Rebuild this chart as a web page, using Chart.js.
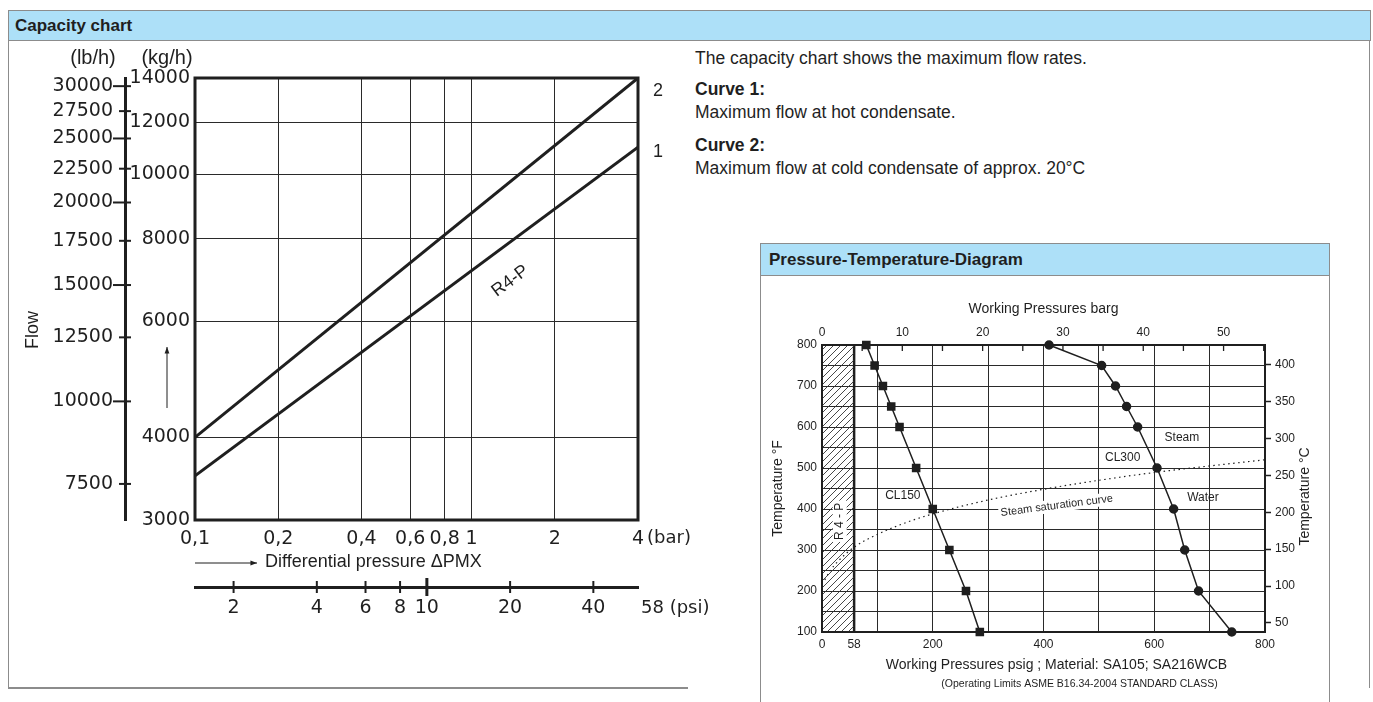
<!DOCTYPE html>
<html>
<head>
<meta charset="utf-8">
<title>Capacity chart</title>
<script src="https://cdn.jsdelivr.net/npm/chart.js@4.4.1/dist/chart.umd.min.js"></script>
<style>
  body { margin: 0; width: 1373px; height: 702px; overflow: hidden; background: #fff; color: #1f1f1f;
         font-family: "Liberation Sans", Arial, Helvetica, sans-serif; position: relative; }
  .head { position: absolute; background: #ade0f8; border: 1px solid #8c8c8c; box-sizing: border-box;
          font-weight: bold; font-size: 17px; padding-left: 6px; }
  .rule { position: absolute; background: #8c8c8c; }
  .txt { position: absolute; font-size: 17.5px; white-space: nowrap; }
  canvas { position: absolute; }
</style>
</head>
<body>
<div class="head" style="left:8px;top:10px;width:1363px;height:31px;line-height:29px">Capacity chart</div>
<div class="rule" style="left:8px;top:40px;width:1px;height:648px"></div>
<div class="rule" style="left:8px;top:687px;width:680px;height:2px"></div>
<div class="rule" style="left:1369px;top:40px;width:1px;height:648px"></div>

<div class="txt" style="left:695px;top:48px">The capacity chart shows the maximum flow rates.</div>
<div class="txt" style="left:695px;top:79px;font-weight:bold">Curve 1:</div>
<div class="txt" style="left:695px;top:102px">Maximum flow at hot condensate.</div>
<div class="txt" style="left:695px;top:135px;font-weight:bold">Curve 2:</div>
<div class="txt" style="left:695px;top:158px">Maximum flow at cold condensate of approx. 20°C</div>

<div class="head" style="left:760px;top:243px;width:570px;height:33px;line-height:31px;padding-left:8px">Pressure-Temperature-Diagram</div>
<div class="rule" style="left:760px;top:275px;width:1px;height:427px"></div>
<div class="rule" style="left:1329px;top:275px;width:1px;height:427px"></div>

<canvas id="capacity" width="720" height="600" style="left:0;top:42px;width:720px;height:600px"></canvas>
<canvas id="ptDiagram" width="566" height="423" style="left:762px;top:277px;width:566px;height:423px"></canvas>

<script>
// capacity chart (log-log)
const barTicks = [0.1, 0.2, 0.4, 0.6, 0.8, 1, 2, 4];
const psiTicks = [2, 4, 6, 8, 10, 20, 40];
const kgTicks = [3000, 4000, 6000, 8000, 10000, 12000, 14000];
const lbTicks = [7500, 10000, 12500, 15000, 17500, 20000, 22500, 25000, 27500, 30000];
const curvePressure = [0.1, 4];
const curve1Flow = [3500, 11000];
const curve2Flow = [4000, 14000];

// pressure-temperature diagram
const tempF = [100, 200, 300, 400, 500, 600, 650, 700, 750, 800];
const cl150Psig = [285, 260, 230, 200, 170, 140, 125, 110, 95, 80];
const cl300Psig = [740, 680, 655, 635, 605, 570, 550, 530, 505, 410];
const satPsig = [5, 15, 30, 58, 100, 150, 200, 300, 400, 500, 600, 700, 800];
const satTempF = [227, 250, 274, 307, 338, 366, 388, 422, 448, 470, 489, 505, 520];
const psigGrid = [0, 58, 100, 200, 300, 400, 500, 600, 700, 800];
const psigLabels = [0, 58, 200, 400, 600, 800];
const tempFGrid = [100, 150, 200, 250, 300, 350, 400, 450, 500, 550, 600, 650, 700, 750, 800];
const tempCTicks = [50, 100, 150, 200, 250, 300, 350, 400];
const bargTicks = [0, 5, 10, 15, 20, 25, 30, 35, 40, 45, 50, 55];
const r4pLimitPsig = 58;

const KG_TO_LB = 2.20462;
const BAR_TO_PSI = 14.5038;
const INK = '#1f1f1f';
const FONT = '"Liberation Sans", Arial, Helvetica, sans-serif';
const NUM_FONT = '"DejaVu Sans", Verdana, sans-serif';

Chart.defaults.font.family = FONT;
Chart.defaults.color = INK;

function strokeLine(ctx, x1, y1, x2, y2) {
    ctx.beginPath();
    ctx.moveTo(x1, y1);
    ctx.lineTo(x2, y2);
    ctx.stroke();
}

function arrow(ctx, x1, y1, x2, y2, head) {
    strokeLine(ctx, x1, y1, x2, y2);
    const ang = Math.atan2(y2 - y1, x2 - x1);
    ctx.beginPath();
    ctx.moveTo(x2, y2);
    ctx.lineTo(x2 - head * Math.cos(ang - 0.35), y2 - head * Math.sin(ang - 0.35));
    ctx.lineTo(x2 - head * Math.cos(ang + 0.35), y2 - head * Math.sin(ang + 0.35));
    ctx.closePath();
    ctx.fill();
}

const setTicks = list => scale => { scale.ticks = list.map(v => ({ value: v })); };
const noLine = { drawOnChartArea: false, drawTicks: false };
const numFont = { family: NUM_FONT, size: 19 };

// decorations of the capacity chart: frame, crossing ticks, units, arrows
const capacityDecor = {
    id: 'capacityDecor',
    afterDraw(chart) {
        const { ctx, chartArea: a } = chart;
        const { x, y, lb, psi } = chart.scales;
        ctx.save();
        ctx.strokeStyle = INK;
        ctx.fillStyle = INK;
        ctx.lineWidth = 3;
        ctx.strokeRect(a.left, a.top, a.right - a.left, a.bottom - a.top);

        ctx.lineWidth = 2;
        lb.ticks.forEach(t => {
            const py = lb.getPixelForValue(t.value);
            const long = t.value % 5000 === 0;
            strokeLine(ctx, lb.right - (long ? 12 : 6), py, lb.right + 6, py);
        });
        psi.ticks.forEach(t => {
            const px = psi.getPixelForValue(t.value);
            const big = t.value === 10;
            ctx.lineWidth = big ? 3 : 2;
            strokeLine(ctx, px, psi.top - (big ? 9 : 6), px, psi.top + (big ? 9 : 6));
        });

        ctx.textBaseline = 'middle';
        ctx.textAlign = 'center';
        ctx.font = '20px ' + FONT;
        ctx.fillText('(lb/h)', lb.right - 32, 16);
        ctx.fillText('(kg/h)', y.left + 42, 16);

        ctx.textAlign = 'left';
        ctx.font = '18px ' + NUM_FONT;
        ctx.fillText('(bar)', x.right + 9, x.top + 18);
        ctx.fillText('58 (psi)', psi.right + 3, psi.top + 21);
        ctx.font = '18px ' + FONT;
        ctx.fillText('2', a.right + 15, y.getPixelForValue(curve2Flow[1]) + 13);
        ctx.fillText('1', a.right + 15, y.getPixelForValue(curve1Flow[1]) + 5);
        ctx.fillText('Differential pressure \u0394PMX', a.left + 70, a.bottom + 42);

        ctx.lineWidth = 1;
        arrow(ctx, a.left, a.bottom + 43, a.left + 62, a.bottom + 43, 7);
        arrow(ctx, y.left + 42, 366, y.left + 42, 305, 7);

        // R4-P along curve 1
        const ang = Math.atan2(
            y.getPixelForValue(curve1Flow[1]) - y.getPixelForValue(curve1Flow[0]),
            x.getPixelForValue(curvePressure[1]) - x.getPixelForValue(curvePressure[0]));
        ctx.save();
        ctx.translate(x.getPixelForValue(1.38), y.getPixelForValue(6900));
        ctx.rotate(ang);
        ctx.textAlign = 'center';
        ctx.fillText('R4-P', 0, 0);
        ctx.restore();

        ctx.save();
        ctx.translate(33, 288);
        ctx.rotate(-Math.PI / 2);
        ctx.textAlign = 'center';
        ctx.fillText('Flow', 0, 0);
        ctx.restore();
        ctx.restore();
    }
};

new Chart(document.getElementById('capacity'), {
    type: 'line',
    data: {
        datasets: [
            { label: '1', data: curvePressure.map((p, i) => ({ x: p, y: curve1Flow[i] })),
              borderColor: INK, borderWidth: 3, pointRadius: 0 },
            { label: '2', data: curvePressure.map((p, i) => ({ x: p, y: curve2Flow[i] })),
              borderColor: INK, borderWidth: 3, pointRadius: 0 }
        ]
    },
    options: {
        responsive: false,
        animation: false,
        layout: { padding: { top: 36, right: 82, bottom: 20, left: 0 } },
        plugins: { legend: { display: false }, tooltip: { enabled: false } },
        scales: {
            x: {
                type: 'logarithmic', position: 'bottom', weight: 0, min: 0.1, max: 4,
                afterBuildTicks: setTicks(barTicks),
                afterFit: s => { s.height = 67; },
                grid: { color: '#2a2a2a', lineWidth: 1, drawTicks: false },
                border: { display: false },
                ticks: { autoSkip: false, maxRotation: 0, padding: 8, font: numFont,
                         callback: v => String(v).replace('.', ',') }
            },
            psi: {
                type: 'logarithmic', axis: 'x', position: 'bottom', weight: 1,
                min: 0.1 * BAR_TO_PSI, max: 4 * BAR_TO_PSI,
                afterBuildTicks: setTicks(psiTicks),
                afterFit: s => { s.height = 35; },
                grid: noLine,
                border: { display: true, width: 3, color: INK },
                ticks: { autoSkip: false, maxRotation: 0, padding: 10, font: numFont,
                         callback: v => String(v) }
            },
            y: {
                type: 'logarithmic', position: 'left', weight: 0, min: 3000, max: 14000,
                afterBuildTicks: setTicks(kgTicks),
                afterFit: s => { s.width = 70; },
                grid: { color: '#2a2a2a', lineWidth: 1, drawTicks: false },
                border: { display: false },
                ticks: { autoSkip: false, padding: 5, font: numFont, callback: v => String(v) }
            },
            lb: {
                type: 'logarithmic', axis: 'y', position: 'left', weight: 1,
                min: 3000 * KG_TO_LB, max: 14000 * KG_TO_LB,
                afterBuildTicks: setTicks(lbTicks),
                afterFit: s => { s.width = 125; },
                grid: noLine,
                border: { display: true, width: 3, color: INK },
                ticks: { autoSkip: false, padding: 12, font: numFont, callback: v => String(v) }
            }
        }
    },
    plugins: [capacityDecor]
});

// pressure-temperature diagram
function makeHatch() {
    const c = document.createElement('canvas');
    c.width = 7;
    c.height = 7;
    const g = c.getContext('2d');
    g.strokeStyle = '#333';
    g.lineWidth = 0.9;
    g.beginPath();
    g.moveTo(0, 7); g.lineTo(7, 0);
    g.moveTo(-2, 2); g.lineTo(2, -2);
    g.moveTo(5, 9); g.lineTo(9, 5);
    g.stroke();
    return g.createPattern(c, 'repeat');
}

const ptDecor = {
    id: 'ptDecor',
    afterDatasetsDraw(chart) {
        const { ctx } = chart;
        const { x, y } = chart.scales;
        ctx.save();
        ctx.fillStyle = INK;
        ctx.textAlign = 'center';
        ctx.textBaseline = 'middle';
        const put = (txt, vx, vy, size, rot, back) => {
            ctx.save();
            ctx.translate(x.getPixelForValue(vx), y.getPixelForValue(vy));
            ctx.rotate(rot);
            ctx.font = size + 'px ' + FONT;
            if (back) {
                const w = ctx.measureText(txt).width;
                ctx.fillStyle = '#fff';
                ctx.fillRect(-w / 2 - 2, -size / 2 - 1, w + 4, size + 2);
                ctx.fillStyle = INK;
            }
            ctx.fillText(txt, 0, 0);
            ctx.restore();
        };
        put('CL150', 146, 432, 12, 0, false);
        put('CL300', 543, 524, 12, 0, false);
        put('Steam', 650, 573, 12, 0, false);
        put('Water', 688, 427, 12, 0, false);
        put('Steam saturation curve', 424, 408, 11, -0.13, true);
        put('R 4 - P', 32, 370, 12, -Math.PI / 2, true);
        ctx.restore();
    },
    afterDraw(chart) {
        const { ctx, chartArea: a } = chart;
        const { barg, degC, x } = chart.scales;
        ctx.save();
        ctx.strokeStyle = INK;
        ctx.fillStyle = INK;
        ctx.lineWidth = 2;
        ctx.strokeRect(a.left, a.top, a.right - a.left, a.bottom - a.top);
        ctx.lineWidth = 1.3;
        barg.ticks.forEach(t => {
            const px = barg.getPixelForValue(t.value);
            strokeLine(ctx, px, a.top, px, a.top + 6);
        });
        ctx.textAlign = 'center';
        ctx.textBaseline = 'middle';
        ctx.font = '14px ' + FONT;
        ctx.fillText('Working Pressures psig ; Material: SA105; SA216WCB', (a.left + a.right) / 2 + 13, x.bottom - 35);
        ctx.font = '10.5px ' + FONT;
        ctx.fillText('(Operating Limits ASME B16.34-2004 STANDARD CLASS)', (a.left + a.right) / 2 + 36, x.bottom - 16);
        ctx.save();
        ctx.font = '14px ' + FONT;
        ctx.translate(degC.right - 23, (a.top + a.bottom) / 2 + 8);
        ctx.rotate(-Math.PI / 2);
        ctx.fillText('Temperature °C', 0, 0);
        ctx.restore();
        ctx.restore();
    }
};

const ptCanvas = document.getElementById('ptDiagram');
new Chart(ptCanvas, {
    type: 'line',
    data: {
        datasets: [
            { label: 'R4-P range', data: [{ x: 0, y: 800 }, { x: r4pLimitPsig, y: 800 }],
              borderWidth: 0, pointRadius: 0, fill: 'start', backgroundColor: makeHatch() },
            { label: 'R4-P limit', data: [{ x: r4pLimitPsig, y: 100 }, { x: r4pLimitPsig, y: 800 }],
              borderColor: INK, borderWidth: 2.5, pointRadius: 0 },
            { label: 'CL150', data: tempF.map((t, i) => ({ x: cl150Psig[i], y: t })),
              borderColor: INK, borderWidth: 1.5, pointStyle: 'rect', pointRadius: 5,
              pointBackgroundColor: INK, pointBorderColor: INK, clip: false },
            { label: 'CL300', data: tempF.map((t, i) => ({ x: cl300Psig[i], y: t })),
              borderColor: INK, borderWidth: 1.5, pointStyle: 'circle', pointRadius: 4,
              pointBackgroundColor: INK, pointBorderColor: INK, clip: false },
            { label: 'Steam saturation curve', data: satPsig.map((p, i) => ({ x: p, y: satTempF[i] })),
              borderColor: INK, borderWidth: 1.2, borderDash: [1.5, 3.5], pointRadius: 0,
              cubicInterpolationMode: 'monotone' }
        ]
    },
    options: {
        responsive: false,
        animation: false,
        layout: { padding: 0 },
        plugins: { legend: { display: false }, tooltip: { enabled: false } },
        scales: {
            x: {
                type: 'linear', position: 'bottom', min: 0, max: 800,
                afterBuildTicks: setTicks(psigGrid),
                afterFit: s => { s.height = 68; },
                grid: { color: '#2a2a2a', lineWidth: 1, drawTicks: false },
                border: { display: false },
                ticks: { autoSkip: false, maxRotation: 0, padding: 5, font: { size: 12 },
                         callback: v => psigLabels.includes(v) ? String(v) : '' }
            },
            barg: {
                type: 'linear', axis: 'x', position: 'top', min: 0, max: 800 / BAR_TO_PSI,
                afterBuildTicks: setTicks(bargTicks),
                afterFit: s => { s.height = 68; },
                grid: noLine,
                border: { display: false },
                ticks: { autoSkip: false, maxRotation: 0, padding: 5, font: { size: 12 },
                         callback: v => v % 10 === 0 ? String(v) : '' },
                title: { display: true, text: 'Working Pressures barg', font: { size: 14 },
                         padding: { top: 24, bottom: 0 } }
            },
            y: {
                type: 'linear', position: 'left', min: 100, max: 800,
                afterBuildTicks: setTicks(tempFGrid),
                afterFit: s => { s.width = 60; },
                grid: { color: '#2a2a2a', lineWidth: 1, drawTicks: false },
                border: { display: false },
                ticks: { autoSkip: false, padding: 5, font: { size: 12 },
                         callback: v => v % 100 === 0 ? String(v) : '' },
                title: { display: true, text: 'Temperature °F', font: { size: 14 },
                         padding: { top: 8, bottom: 0 } }
            },
            degC: {
                type: 'linear', axis: 'y', position: 'right',
                min: (100 - 32) / 1.8, max: (800 - 32) / 1.8,
                afterBuildTicks: setTicks(tempCTicks),
                afterFit: s => { s.width = 63; },
                grid: { drawOnChartArea: false, drawTicks: true, tickLength: 6, tickColor: INK, tickWidth: 1.5 },
                border: { display: false },
                ticks: { autoSkip: false, padding: 4, font: { size: 12 }, callback: v => String(v) }
            }
        }
    },
    plugins: [ptDecor]
});
</script>
</body>
</html>
